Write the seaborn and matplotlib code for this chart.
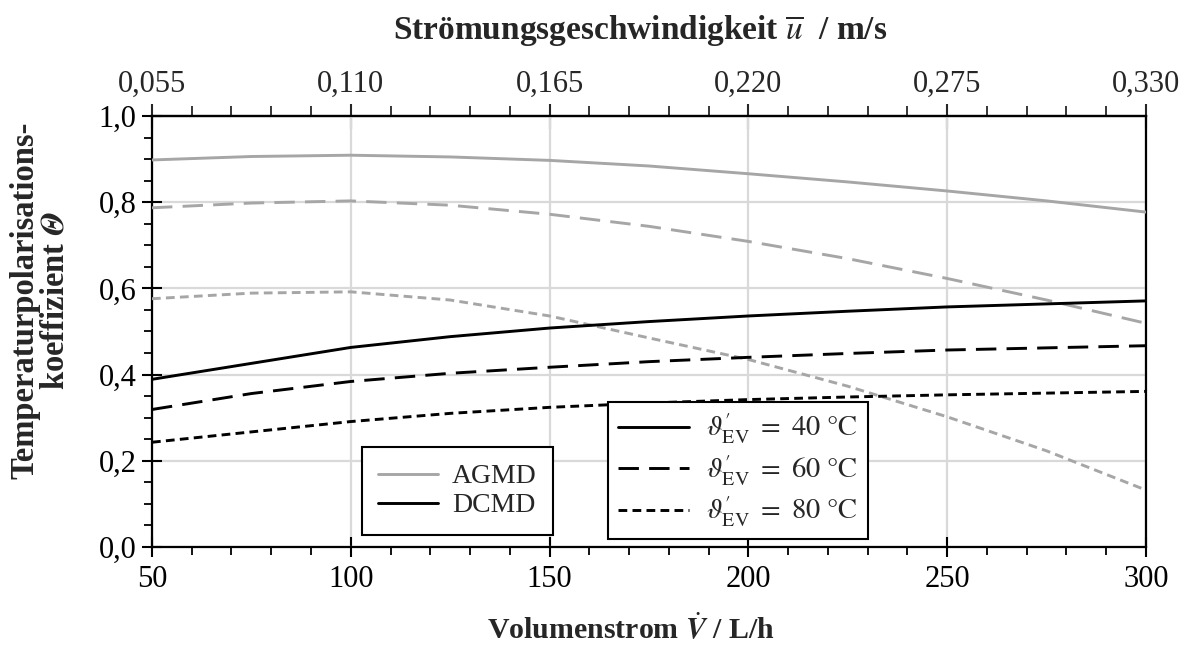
import numpy as np
import pandas as pd
import matplotlib
matplotlib.use("Agg")
import matplotlib.pyplot as plt
from matplotlib.lines import Line2D
from matplotlib.ticker import MultipleLocator, FixedLocator, FuncFormatter
import seaborn as sns

# Volume flow (L/h) and temperature polarisation coefficients
volume_flow = [50, 75, 100, 125, 150, 175, 200, 225, 250, 275, 300]
agmd_40 = [0.898, 0.906, 0.909, 0.905, 0.897, 0.884, 0.866, 0.847, 0.826, 0.803, 0.777]
agmd_60 = [0.787, 0.798, 0.803, 0.793, 0.772, 0.744, 0.709, 0.669, 0.623, 0.573, 0.519]
agmd_80 = [0.576, 0.589, 0.592, 0.573, 0.536, 0.485, 0.435, 0.373, 0.302, 0.223, 0.132]
dcmd_40 = [0.389, 0.426, 0.463, 0.488, 0.508, 0.523, 0.536, 0.547, 0.557, 0.564, 0.571]
dcmd_60 = [0.319, 0.356, 0.384, 0.403, 0.417, 0.430, 0.440, 0.449, 0.457, 0.462, 0.467]
dcmd_80 = [0.243, 0.267, 0.291, 0.310, 0.324, 0.334, 0.342, 0.348, 0.353, 0.357, 0.361]

processes = ["AGMD", "DCMD"]
temperatures = ["40", "60", "80"]
series = {
    ("AGMD", "40"): agmd_40, ("AGMD", "60"): agmd_60, ("AGMD", "80"): agmd_80,
    ("DCMD", "40"): dcmd_40, ("DCMD", "60"): dcmd_60, ("DCMD", "80"): dcmd_80,
}

# mean flow velocity (m/s) per unit volume flow (L/h) for the top axis
velocity_per_flow = 0.0011
velocity_ticks = [0.055, 0.110, 0.165, 0.220, 0.275, 0.330]

rows = []
for (proc, temp), vals in series.items():
    for v, t in zip(volume_flow, vals):
        rows.append({"V": v, "theta": t, "Prozess": proc, "T": temp})
df = pd.DataFrame(rows)

sns.set_theme(style="white")
plt.rcParams["font.family"] = ["Liberation Serif", "DejaVu Serif"]
plt.rcParams["mathtext.fontset"] = "stix"
plt.rcParams["axes.unicode_minus"] = False

GREY = "#a6a6a6"
palette = {"AGMD": GREY, "DCMD": "#000000"}
dashes = {"40": "", "60": (7, 3.5), "80": (3, 1.8)}

fig = plt.figure(figsize=(11.91, 6.48), dpi=100)
ax = fig.add_axes([0.1276, 0.1559, 0.8346, 0.6651])

sns.lineplot(data=df, x="V", y="theta", hue="Prozess", style="T",
             palette=palette, dashes=dashes, linewidth=2.1,
             legend=False, ax=ax, zorder=3)

ax.set_xlim(50, 300)
ax.set_ylim(0, 1.0)
ax.xaxis.set_major_locator(MultipleLocator(50))
ax.xaxis.set_minor_locator(MultipleLocator(10))
ax.yaxis.set_major_locator(MultipleLocator(0.2))
ax.yaxis.set_minor_locator(MultipleLocator(0.05))
ax.yaxis.set_major_formatter(FuncFormatter(lambda y, _: f"{y:.1f}".replace(".", ",")))
ax.grid(True, which="major", color="#d9d9d9", linewidth=1.6, zorder=0)

for s in ax.spines.values():
    s.set_color("black")
    s.set_linewidth(1.6)

ax.tick_params(axis="both", which="major", direction="inout", length=14, width=1.5,
               colors="black", labelsize=22, pad=4)
ax.tick_params(axis="both", which="minor", direction="out", length=6, width=1.3,
               colors="black")
ax.tick_params(axis="x", which="both", top=False, bottom=True)
ax.tick_params(axis="y", which="both", left=True, right=False)
ax.tick_params(axis="x", which="major", pad=6)

sec = ax.secondary_xaxis("top", functions=(lambda v: v * velocity_per_flow,
                                            lambda u: u / velocity_per_flow))
sec.xaxis.set_major_locator(FixedLocator(velocity_ticks))
sec.xaxis.set_minor_locator(FixedLocator(
    [velocity_ticks[0] + 0.011 * k for k in range(26) if k % 5]))
sec.xaxis.set_major_formatter(FuncFormatter(lambda u, _: f"{u:.3f}".replace(".", ",")))
sec.tick_params(which="major", direction="inout", length=18, width=1.5, labelsize=22, pad=3)
sec.tick_params(which="minor", direction="out", length=7, width=1.3)
sec.spines["top"].set_linewidth(1.6)
sec.set_xlabel(r"Strömungsgeschwindigkeit $\overline{u}$  / m/s", fontsize=24,
               fontweight="bold", labelpad=22, x=0.491)

ax.set_xlabel(r"Volumenstrom $\dot{\mathbfit{V}}$ / L/h", fontsize=21.5,
              fontweight="bold", x=0.482)
ax.xaxis.labelpad = 14
ax.set_ylabel("Temperaturpolarisations-\n" + r"koeffizient $\mathbfit{\Theta}$",
              fontsize=23.5, fontweight="bold", linespacing=0.95)
ax.yaxis.set_label_coords(-0.082, 0.573)

# Legend for membrane process (colour)
proc_handles = [Line2D([], [], color=palette[p], linewidth=2.1) for p in processes]
leg1 = ax.legend(proc_handles, processes, loc="lower left",
                 bbox_to_anchor=(0.211, 0.028), borderaxespad=0, fontsize=20,
                 frameon=True, fancybox=False, edgecolor="black",
                 handlelength=2.15, handletextpad=0.5, borderpad=0.6,
                 labelspacing=0.12)
leg1.get_frame().set_linewidth(1.5)
leg1.get_frame().set_alpha(1.0)
ax.add_artist(leg1)

# Legend for feed inlet temperature (line style)
temp_handles = []
for t in temperatures:
    h = Line2D([], [], color="black", linewidth=2.1)
    if dashes[t]:
        h.set_dashes(dashes[t])
    temp_handles.append(h)
temp_labels = [r"$\vartheta^{\prime}_{\mathrm{EV}}\ =\ %s\ \mathrm{°C}$" % t for t in temperatures]
leg2 = ax.legend(temp_handles, temp_labels, loc="lower left",
                 bbox_to_anchor=(0.459, 0.019), borderaxespad=0, fontsize=20.5,
                 frameon=True, fancybox=False, edgecolor="black",
                 handlelength=2.5, handletextpad=0.58, borderpad=0.35,
                 labelspacing=0.25)
leg2.get_frame().set_linewidth(1.5)
leg2.get_frame().set_alpha(1.0)

fig.savefig("out.png", dpi=100, facecolor="white")
